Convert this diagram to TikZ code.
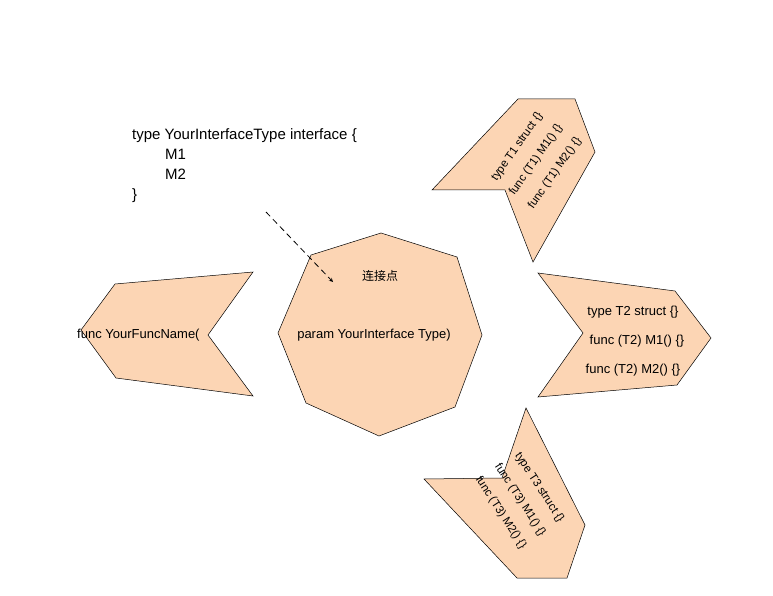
\documentclass[tikz,border=0pt]{standalone}
\usepackage{fontspec}
\setmainfont{Liberation Sans}
\newfontfamily\cjk{Noto Sans CJK SC}
\usetikzlibrary{positioning}

\begin{document}
\begin{tikzpicture}[
            x=1pt, y=-1pt,
            shapebox/.style={draw, fill=peach, line width=0.5pt, line join=miter},
            label/.style={font=\fontsize{13}{15}\selectfont, inner sep=0pt},
            stack/.style={font=\fontsize{13}{29}\selectfont, align=center, inner sep=0pt},
            tilted/.style={font=\fontsize{11.5}{23}\selectfont, align=center, inner sep=0pt},
            arrow/.style={-stealth, dashed, dash pattern=on 6pt off 4pt, thick}
            ]
            \definecolor{peach}{HTML}{FCD5B4}
            \useasboundingbox (0,0) rectangle (773,596);

            % Interface definition
            \node[font=\fontsize{15}{20}\selectfont, align=left, anchor=north west, inner sep=0pt] (iface) at (132,128)
                {type YourInterfaceType interface \{\\\hspace*{33pt}M1\\\hspace*{33pt}M2\\\}};

            % Function shape
            \draw[shapebox] (253,272) -- (115,284) -- (81,330) -- (116,378) -- (253,396) -- (208,335) -- cycle;
            \node[label, anchor=west] (func) at (77,335) {func YourFuncName(};

            % Parameter shape
            \draw[shapebox] (381,233) -- (457,257) -- (482,335) -- (455,407) -- (379,436) -- (306,403) -- (278,333) -- (311,255) -- cycle;
            \node[label] (param) at (374,335) {param YourInterface Type)};
            \node[label, font=\cjk\fontsize{12}{14}\selectfont] (point) at (380,276) {连接点};

            % Implementations
            \draw[shapebox] (518,99) -- (575,99) -- (595,152) -- (533,262) -- (505,190) -- (432,190) -- cycle;
            \node[tilted, rotate=55] (t1) at (536,160) {type T1 struct \{\}\\func (T1) M1() \{\}\\func (T1) M2() \{\}};

            \draw[shapebox] (538,273) -- (675,291) -- (711,338) -- (677,385) -- (538,397) -- (583,333) -- cycle;
            \node[stack] (t2) at (633,341) {type T2 struct \{\}\\\hspace*{8pt}func (T2) M1() \{\}\\func (T2) M2() \{\}};

            \draw[shapebox] (526,408) -- (585,525) -- (567,578) -- (517,578) -- (424,479) -- (502,478) -- cycle;
            \node[tilted, rotate=-57] (t3) at (520,500) {type T3 struct \{\}\\func (T3) M1() \{\}\\func (T3) M2() \{\}};

            % Connection
            \coordinate (from) at (266,212);
            \coordinate (to) at (333,282);
            \draw[arrow] (from) -- (to);

        \end{tikzpicture}
\end{document}
